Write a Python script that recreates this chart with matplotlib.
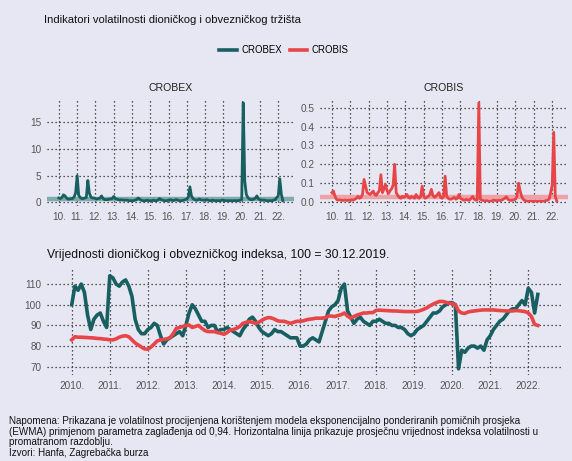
import matplotlib
matplotlib.use("Agg")
import matplotlib.pyplot as plt
from matplotlib.lines import Line2D
import numpy as np
import pandas as pd

# monthly observations, Jan 2010 - Apr 2022
months = pd.date_range("2010-01-01", "2022-04-01", freq="MS")

crobex_vol = [
    0.8, 0.7, 0.9, 1.4, 1.2, 0.8, 0.6, 0.6, 0.7, 0.7, 1.0, 1.8,
    5.0, 1.3, 0.9, 0.7, 0.7, 0.8, 0.9, 4.1, 1.7, 1.0, 0.8, 0.8,
    0.7, 0.6, 0.7, 0.8, 1.2, 0.7, 0.5, 0.5, 0.5, 0.6, 0.6, 0.7,
    1.1, 0.7, 0.6, 0.5, 0.4, 0.5, 0.4, 0.4, 0.4, 0.4, 0.3, 0.3,
    0.3, 0.3, 0.4, 0.5, 0.8, 0.6, 0.4, 0.3, 0.3, 0.3, 0.4, 0.3,
    0.3, 0.3, 0.4, 0.3, 0.3, 0.4, 0.7, 0.5, 0.4, 0.3, 0.3, 0.3,
    0.4, 0.5, 0.4, 0.3, 0.4, 0.5, 0.4, 0.3, 0.3, 0.3, 0.4, 0.5,
    0.6, 1.0, 2.9, 1.2, 0.7, 0.5, 0.4, 0.4, 0.6, 0.5, 0.4, 0.4,
    0.4, 0.5, 0.4, 0.3, 0.3, 0.4, 0.3, 0.3, 0.3, 0.3, 0.3, 0.4,
    0.4, 0.3, 0.3, 0.3, 0.3, 0.3, 0.3, 0.3, 0.3, 0.3, 0.3, 0.4,
    0.5, 18.7, 4.0, 1.5, 0.9, 0.6, 0.5, 0.5, 0.6, 0.8, 1.2, 0.6,
    0.5, 0.4, 0.4, 0.4, 0.3, 0.3, 0.3, 0.3, 0.3, 0.4, 0.5, 0.9,
    1.2, 4.4, 1.5, 0.3,
]
crobis_vol = [
    0.05, 0.058, 0.03, 0.014, 0.01, 0.012, 0.01, 0.008, 0.01, 0.01, 0.008, 0.01,
    0.01, 0.012, 0.01, 0.015, 0.02, 0.03, 0.02, 0.025, 0.04, 0.12, 0.085, 0.05,
    0.045, 0.04, 0.05, 0.058, 0.04, 0.035, 0.05, 0.06, 0.145, 0.05, 0.07, 0.093,
    0.06, 0.045, 0.06, 0.07, 0.09, 0.2, 0.05, 0.035, 0.025, 0.02, 0.03, 0.025,
    0.03, 0.04, 0.025, 0.02, 0.03, 0.025, 0.02, 0.04, 0.025, 0.02, 0.03, 0.084,
    0.03, 0.02, 0.025, 0.03, 0.04, 0.067, 0.035, 0.025, 0.03, 0.04, 0.05, 0.025,
    0.02, 0.03, 0.137, 0.03, 0.02, 0.015, 0.015, 0.02, 0.025, 0.015, 0.02, 0.04,
    0.02, 0.015, 0.01, 0.01, 0.015, 0.01, 0.01, 0.02, 0.03, 0.015, 0.01, 0.01,
    0.526, 0.015, 0.01, 0.008, 0.006, 0.008, 0.006, 0.005, 0.006, 0.008, 0.01, 0.008,
    0.008, 0.01, 0.008, 0.01, 0.015, 0.02, 0.028, 0.015, 0.01, 0.008, 0.01, 0.012,
    0.015, 0.03, 0.1, 0.06, 0.03, 0.015, 0.008, 0.006, 0.005, 0.005, 0.006, 0.005,
    0.005, 0.006, 0.005, 0.005, 0.006, 0.005, 0.005, 0.006, 0.008, 0.01, 0.015, 0.05,
    0.09, 0.37, 0.03, 0.005,
]
crobex_vol_mean = 0.65
crobis_vol_mean = 0.027

crobex_idx = [
    100, 109, 107, 110, 106, 95, 88, 93, 95, 96, 92, 89,
    114, 113, 110, 109, 111, 112, 109, 104, 93, 88, 86, 86,
    88, 89, 91, 90, 85, 81, 83, 84, 85, 86, 87, 85,
    90, 96, 100, 98, 95, 92, 92, 89, 90, 90, 87, 88,
    88, 89, 88, 87, 86, 85, 88, 90, 93, 94, 92, 89,
    87, 86, 85, 86, 88, 87, 87, 86, 85, 84, 84, 84,
    80, 80, 81, 83, 84, 83, 82, 87, 92, 97, 99, 100,
    102, 108, 110, 97, 94, 91, 93, 94, 92, 91, 90, 92,
    92, 93, 92, 91, 91, 90, 90, 89, 89, 88, 86, 85,
    86, 88, 89, 90, 92, 94, 96, 96, 97, 99, 100, 101,
    101, 100, 69, 78, 77, 79, 80, 80, 79, 80, 78, 83,
    85, 88, 90, 92, 93, 95, 97, 98, 98, 100, 102, 100,
    108, 106, 96, 105,
]
crobis_idx = [
    83, 84.5, 84.3, 84.3, 84.2, 84.1, 84, 83.9, 83.7, 83.6, 83.4, 83.3,
    83, 83, 83.5, 84.3, 84.8, 85, 84.5, 83, 81.5, 80.5, 79.5, 78.6,
    78.5, 79.5, 81, 82.5, 83, 83.2, 83.5, 84, 86, 88.6, 89, 89.5,
    90, 90.2, 89, 89.5, 90, 88.6, 87.5, 87, 87, 87, 86.5, 86.2,
    85.7, 86.5, 87.8, 88, 88.6, 89.5, 91, 91.5, 91.8, 91.5, 91, 91.5,
    92.5, 93.3, 93.8, 93.6, 93, 92.2, 92, 92, 91.5, 91, 91.5, 92,
    92, 92.2, 92.7, 93, 93.2, 93.5, 93.5, 93.5, 93.8, 94.6, 94.5, 94.3,
    94.8, 95.2, 96, 94.5, 93.5, 94.3, 95, 95.5, 96, 96, 96.2, 96.2,
    97.3, 97.4, 97.3, 97.2, 97.1, 97, 97, 96.9, 96.8, 96.7, 96.7, 96.7,
    96.7, 96.8, 97.2, 97.8, 98.5, 99.5, 100.3, 101, 101.6, 101.6, 101.2, 100.8,
    100.5, 100, 97, 96, 95.8, 96.5, 96.8, 97, 97.2, 97.4, 97.5, 97.5,
    97.5, 97.5, 97.3, 97.2, 97.1, 97, 97, 97, 97.2, 97.1, 96.9, 96.7,
    96, 94.3, 90.5, 90,
]

years = list(range(2010, 2023))
short_labels = ["%02d." % (y % 100) for y in years]
long_labels = ["%d." % y for y in years]

bg = "#e6e7f2"
teal = "#185f61"
red = "#e84548"
teal_light = "#80aaab"
red_light = "#eea2a8"
tick_col = "#555555"

plt.rcParams["font.family"] = ["Liberation Sans", "DejaVu Sans"]

W, H = 572, 461
fig = plt.figure(figsize=(W / 100, H / 100), dpi=100, facecolor=bg)

t = months.year + (months.month - 1) / 12.0
xlim = (2009.35, 2022.86)


def px(l, t_, r, b):
    return [l / W, 1 - b / H, (r - l) / W, (b - t_) / H]


def style(ax, yticks, ylabels):
    ax.set_facecolor(bg)
    for s in ax.spines.values():
        s.set_visible(False)
    ax.set_xlim(*xlim)
    ax.set_yticks(yticks)
    ax.set_yticklabels(ylabels)
    ax.grid(True, color="#222222", linestyle=(0, (1, 2.2)), linewidth=0.9)
    ax.set_axisbelow(True)
    ax.tick_params(length=0, labelsize=7.2, labelcolor=tick_col, pad=4)


ax1 = fig.add_axes(px(47, 98, 294, 206))
ax1.axhline(crobex_vol_mean, color=teal_light, lw=3.2)
ax1.plot(t, crobex_vol, color=teal, lw=2.0)
ax1.set_ylim(-0.7, 19.6)
style(ax1, [0, 5, 10, 15], ["0", "5", "10", "15"])
ax1.set_xticks(years)
ax1.set_xticklabels(short_labels)
ax1.set_title("CROBEX", fontsize=7.6, color="#222222", pad=5)

ax2 = fig.add_axes(px(320, 98, 568, 206))
ax2.axhline(crobis_vol_mean, color=red_light, lw=3.2)
ax2.plot(t, crobis_vol, color=red, lw=2.0)
ax2.set_ylim(-0.021, 0.552)
style(ax2, [0, 0.1, 0.2, 0.3, 0.4, 0.5], ["0.0", "0.1", "0.2", "0.3", "0.4", "0.5"])
ax2.set_xticks(years)
ax2.set_xticklabels(short_labels)
ax2.set_title("CROBIS", fontsize=7.6, color="#222222", pad=5)

ax3 = fig.add_axes(px(47, 269, 561, 375))
ax3.plot(t, crobex_idx, color=teal, lw=2.6)
ax3.plot(t, crobis_idx, color=red, lw=2.6)
ax3.set_ylim(66, 117.3)
style(ax3, [70, 80, 90, 100, 110], ["70", "80", "90", "100", "110"])
ax3.set_xticks(years)
ax3.set_xticklabels(long_labels)

fig.text(44 / W, 1 - 20 / H, "Indikatori volatilnosti dioničkog i obvezničkog tržišta",
         fontsize=8.1, va="center", ha="left", color="#111111")
fig.text(47 / W, 1 - 255 / H, "Vrijednosti dioničkog i obvezničkog indeksa, 100 = 30.12.2019.",
         fontsize=8.8, va="center", ha="left", color="#111111")

handles = [Line2D([], [], color=teal, lw=2.6), Line2D([], [], color=red, lw=2.6)]
fig.legend(handles, ["CROBEX", "CROBIS"], loc="center", bbox_to_anchor=(284 / W, 1 - 50 / H),
           ncol=2, frameon=False, fontsize=6.9, handlelength=1.8, columnspacing=0.8,
           handletextpad=0.5)

note = ("Napomena: Prikazana je volatilnost procijenjena korištenjem modela eksponencijalno ponderiranih pomičnih prosjeka\n"
        "(EWMA) primjenom parametra zaglađenja od 0,94. Horizontalna linija prikazuje prosječnu vrijednost indeksa volatilnosti u\n"
        "promatranom razdoblju.\n"
        "Izvori: Hanfa, Zagrebačka burza")
fig.text(9 / W, 1 - 416 / H, note, fontsize=7.1, va="top", ha="left", linespacing=1.08,
         color="#111111")

fig.savefig("out.png", dpi=100, facecolor=bg)
